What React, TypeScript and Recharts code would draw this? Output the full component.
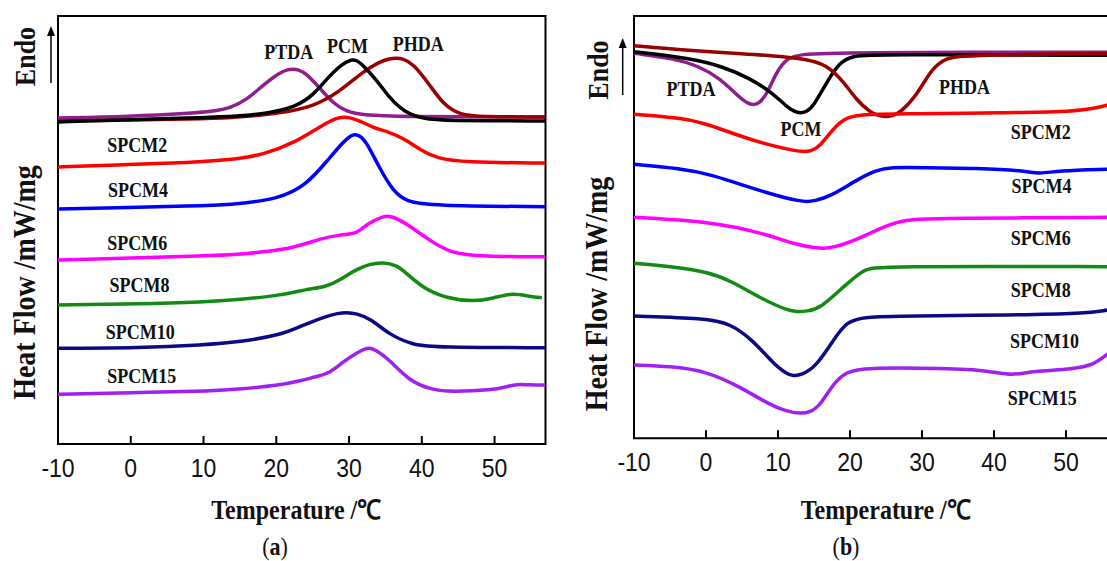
import React from 'react';
import { LineChart, Line, XAxis, YAxis, ReferenceArea, ReferenceDot } from 'recharts';

type P = [number, number];

const xTicks = [-10, 0, 10, 20, 30, 40, 50];

// ---------- Panel (a): heating curves ----------
const ptdaA: P[] = [[-10,326],[0,327.5],[8,330.5],[11.5,333],[13.6,335.7],[15.9,344],[18.2,359],[20.5,371.7],[21.6,374.5],[22.3,375],[23,374.5],[24.1,370.7],[26,355.7],[27.8,340.7],[29.7,332.3],[31.9,329],[36.5,327.3],[57,327]];
const pcmA: P[] = [[-10,322],[0,324.5],[8,326],[13.6,327.3],[18.2,329.7],[22.8,337.3],[25.1,349],[27.4,369],[29.2,380.7],[30.3,384.5],[31,384],[31.9,379],[33.8,364],[35.6,345.7],[37.5,332.3],[40.2,325],[43.4,323.3],[57,323]];
const phdaA: P[] = [[-10,323],[0,324],[8,325],[13.6,325.7],[20.5,330.7],[25.1,337.3],[28.7,352.3],[31.9,372.3],[34.2,382.3],[35.6,385.5],[36.5,386],[37.4,385.3],[38.8,380.7],[41.1,359],[43,339],[45.3,329],[48,327.3],[57,327]];
const spcm2A: P[] = [[-10,277],[0,279.5],[8,281.5],[13.6,284],[18.2,289],[22.8,302.3],[26,317.3],[28.2,326],[29.4,327.5],[31,325],[33.3,316.3],[35.6,311.7],[37.5,305.7],[39.8,294],[42.1,285.7],[45.7,281.7],[57,281]];
const spcm4A: P[] = [[-10,235],[0,236.5],[8,238],[13.6,239],[20.5,245],[24.1,259],[26.9,282.3],[29.2,302.3],[30.3,308.7],[30.8,309.7],[31.4,308.7],[32.4,302.3],[34.2,275.7],[36.1,252.3],[37.9,242.3],[41.1,238.3],[57,237.3]];
const spcm6A: P[] = [[-10,184],[0,186],[10,188],[15,189.5],[18,192],[22.3,195.7],[26.2,205.7],[28.6,209],[30.6,210],[31.6,214],[32.6,220.7],[34.8,228.3],[35.8,227.8],[37.5,222.3],[41,204],[43.9,190.7],[48.3,187.5],[57,187.3]];
const spcm8A: P[] = [[-10,139],[1.2,140],[10,142],[15,144.5],[20.5,148.5],[24.1,154.7],[26.9,157.3],[28.5,163],[31,174.7],[32.8,180],[34.7,181.7],[36.5,179],[37.9,170.7],[40.2,155.7],[43.4,145.7],[47.1,142.3],[49.8,145.7],[52.4,151.3],[54.9,147.3],[56.5,146.3]];
const spcm10A: P[] = [[-10,95.7],[1.2,96],[10,99],[15,102],[20.5,109],[23.2,117.3],[26.6,127.3],[28.5,130.8],[29.7,131.7],[31,130.5],[32.9,125.7],[35.6,109],[38.8,99],[42,96.7],[57,96.3]];
const spcm15A: P[] = [[-10,49.7],[1.2,51.5],[11.4,53],[15,55],[20.3,58.5],[23.2,63],[25.5,67.5],[27.3,70.5],[29.2,82.3],[31,91],[32.3,95.5],[32.8,96],[33.5,94.8],[35.6,84],[38.4,62.3],[41.5,54],[44,52.3],[49.8,54],[51.5,57],[53.1,60],[54.7,59],[57,59]];

// ---------- Panel (b): cooling curves ----------
const phdaB: P[] = [[-10,392.5],[-5,389.5],[0.1,386.6],[5,384.5],[9.3,382.6],[14,379.3],[16.8,373.3],[19.1,356.6],[20.9,338.3],[22.8,326],[24,322.5],[24.9,321.6],[25.9,322.5],[26.9,325],[29.3,343.3],[31.1,366.6],[33,380.6],[36.7,383.3],[57,385]];
const ptdaB: P[] = [[-10,385],[-4.5,380],[-0.8,371.6],[1.9,360],[4.3,343.3],[5.8,334.5],[6.6,333.3],[7.4,335],[8.4,343.3],[9.8,366.6],[11.2,380],[13.1,384],[18,386],[57,386]];
const pcmB: P[] = [[-10,386.6],[-2.2,380],[2.4,371.6],[6.1,360],[9.3,345],[11.2,331.6],[12.3,326.5],[13.1,325],[13.9,326.5],[14.9,331.6],[16.8,356.6],[18.6,376.6],[20.5,382.6],[23.2,384],[57,383]];
const spcm2B: P[] = [[-10,324],[-2.2,320],[2.4,308.3],[7,296.6],[11.7,288.3],[13.5,286.6],[14.5,287],[15.8,291.6],[17.7,310],[19.5,321.6],[22.3,324.3],[28,324.5],[42.5,325.6],[49.7,326.6],[53.1,329],[55.4,332.3],[57,336]];
const spcm4B: P[] = [[-10,274],[-3.6,270],[1,263.3],[5.7,251.6],[10.3,241.6],[13,237.3],[14,236.6],[15,237.3],[17.2,241.6],[20.9,258.3],[23.7,268.3],[25.6,271],[30,270.6],[37.9,270],[44.1,267.6],[46.4,264.3],[48.8,267.6],[55.4,269],[57,269.3]];
const spcm6B: P[] = [[-10,221],[1,216.6],[8,205],[12.6,193.3],[15.3,190.3],[16.3,190],[17.5,190.5],[20.9,198.3],[25.6,215],[28.5,219],[33,220],[57,221]];
const spcm8B: P[] = [[-10,175],[-5,172],[0.1,166.6],[3.3,158.3],[8,138.3],[11.5,127.5],[12.6,126.6],[14,127],[15.9,130],[19.1,151.6],[21.9,169],[23.8,172.3],[57,171.6]];
const spcm10B: P[] = [[-10,122.3],[0,120],[3.3,115],[6.5,98.3],[9.3,75],[11.2,64.5],[12.1,62.3],[13.2,63],[15.3,71.6],[17.7,98.3],[19.5,116.6],[21.9,121.6],[28,122.3],[42.5,123.3],[52.5,125],[55.4,127.6],[57,130]];
const spcm15B: P[] = [[-10,73.3],[-5,72],[0,67.3],[4.7,51.6],[8.9,33.3],[11,27.5],[13.1,24.3],[14.6,26.5],[15.9,33.3],[17.7,55],[19.5,66.6],[21.9,70.6],[33.2,70],[39.5,67.6],[42.4,62.3],[45.3,67.3],[51.1,69],[54,74.3],[55.4,82.3],[57,91]];

// ---------- Label positions (data coordinates) ----------
const labelNames = ['PTDA', 'PCM', 'PHDA', 'SPCM2', 'SPCM4', 'SPCM6', 'SPCM8', 'SPCM10', 'SPCM15'];
const labelPosA: P[] = [[21.7,392],[29.8,398],[39.5,400],[0.9,299],[1.0,254],[0.9,201.3],[1.2,159],[1.3,112.3],[1.5,68]];
const labelPosB: P[] = [[-2.1,349],[13.2,309],[35.9,351],[46.5,306.6],[46.6,252.6],[46.5,200],[46.5,148.3],[47,97.3],[46.7,40]];

const colors = {
  ptda: '#8E1E8E',
  pcm: '#000000',
  phda: '#990000',
  s2: '#FF0000',
  s4: '#0000FF',
  s6: '#FF00FF',
  s8: '#138A13',
  s10: '#0A0A85',
  s15: '#A020F0',
};

const serif = '"Liberation Serif", "Times New Roman", serif';
const sans = '"Liberation Sans", Arial, sans-serif';
const STRETCH = 1.13;

const seriesA = [
  { id: 'ptda', pts: ptdaA, color: colors.ptda },
  { id: 'phda', pts: phdaA, color: colors.phda },
  { id: 'pcm', pts: pcmA, color: colors.pcm },
  { id: 's2', pts: spcm2A, color: colors.s2 },
  { id: 's4', pts: spcm4A, color: colors.s4 },
  { id: 's6', pts: spcm6A, color: colors.s6 },
  { id: 's8', pts: spcm8A, color: colors.s8 },
  { id: 's10', pts: spcm10A, color: colors.s10 },
  { id: 's15', pts: spcm15A, color: colors.s15 },
];
const seriesB = [
  { id: 'ptda', pts: ptdaB, color: colors.ptda },
  { id: 'pcm', pts: pcmB, color: colors.pcm },
  { id: 'phda', pts: phdaB, color: colors.phda },
  { id: 's2', pts: spcm2B, color: colors.s2 },
  { id: 's4', pts: spcm4B, color: colors.s4 },
  { id: 's6', pts: spcm6B, color: colors.s6 },
  { id: 's8', pts: spcm8B, color: colors.s8 },
  { id: 's10', pts: spcm10B, color: colors.s10 },
  { id: 's15', pts: spcm15B, color: colors.s15 },
];

const toData = (pts: P[]) => pts.map(([t, v]) => ({ t, v }));

function SText(props: {
  x: number;
  y: number;
  size: number;
  family: string;
  bold?: boolean;
  rotate?: number;
  children: React.ReactNode;
}) {
  const { x, y, size, family, bold, rotate, children } = props;
  const rot = rotate ? ` rotate(${rotate})` : '';
  return (
    <text
      transform={`translate(${x},${y})${rot} scale(1,${STRETCH})`}
      x={0}
      y={0}
      textAnchor="middle"
      dominantBaseline="central"
      fontFamily={family}
      fontWeight={bold ? 'bold' : 'normal'}
      fontSize={size}
      fill="#111"
    >
      {children}
    </text>
  );
}

const Tick = (props: any) => {
  const { x, y, payload } = props;
  return (
    <g>
      {payload.value !== -10 && (
        <line x1={x} x2={x} y1={y} y2={y - 8} stroke="#000" strokeWidth={2} />
      )}
      <SText x={x} y={y + 24} size={23} family={sans}>
        {payload.value}
      </SText>
    </g>
  );
};

const makeLabel = (text: string) => (p: any) => {
  const vb = p.viewBox || {};
  const cx = (vb.x || 0) + (vb.width || 0) / 2;
  const cy = (vb.y || 0) + (vb.height || 0) / 2;
  return (
    <SText x={cx} y={cy} size={18} family={serif} bold>
      {text}
    </SText>
  );
};

function Panel(props: {
  left: number;
  width: number;
  margin: { top: number; left: number; right: number; bottom: number };
  yMax: number;
  series: { id: string; pts: P[]; color: string }[];
  labels: P[];
}) {
  const { left, width, margin, yMax, series, labels } = props;
  return (
    <div style={{ position: 'absolute', left, top: 0 }}>
      <LineChart width={width} height={561} margin={margin}>
        <XAxis
          type="number"
          dataKey="t"
          domain={[-10, 57]}
          ticks={xTicks}
          interval={0}
          allowDataOverflow
          axisLine={false}
          tickLine={false}
          tickSize={0}
          tickMargin={0}
          height={30}
          tick={Tick}
        />
        <YAxis type="number" domain={[0, yMax]} hide allowDataOverflow />
        {series.map((s) => (
          <Line
            key={s.id}
            data={toData(s.pts)}
            dataKey="v"
            type="basis"
            stroke={s.color}
            strokeWidth={3.5}
            dot={false}
            activeDot={false}
            isAnimationActive={false}
          />
        ))}
        <ReferenceArea
          x1={-10}
          x2={57}
          y1={0}
          y2={yMax}
          fill="none"
          fillOpacity={0}
          stroke="#000"
          strokeWidth={2}
          ifOverflow="visible"
        />
        {labels.map(([t, v], i) => (
          <ReferenceDot
            key={labelNames[i]}
            x={t}
            y={v}
            r={0}
            fill="none"
            stroke="none"
            ifOverflow="visible"
            label={makeLabel(labelNames[i])}
          />
        ))}
      </LineChart>
    </div>
  );
}

export default function App() {
  return (
    <div
      style={{
        position: 'absolute',
        left: 0,
        top: 0,
        width: 1107,
        height: 561,
        overflow: 'hidden',
        background: '#fff',
      }}
    >
      <Panel
        left={0}
        width={560}
        margin={{ top: 16, left: 58, right: 14.5, bottom: 87 }}
        yMax={428}
        series={seriesA}
        labels={labelPosA}
      />
      <Panel
        left={560}
        width={570}
        margin={{ top: 16, left: 74, right: 13.6, bottom: 92.7 }}
        yMax={422.3}
        series={seriesB}
        labels={labelPosB}
      />
      <svg
        width={1107}
        height={561}
        style={{ position: 'absolute', left: 0, top: 0, pointerEvents: 'none' }}
      >
        {/* Panel a decorations */}
        <SText x={24} y={282.5} size={28} family={serif} bold rotate={-90}>
          Heat Flow /mW/mg
        </SText>
        <SText x={25} y={56.5} size={26} family={serif} bold rotate={-90}>
          Endo
        </SText>
        <line x1={51} x2={51} y1={83} y2={34} stroke="#000" strokeWidth={1.5} />
        <path d="M47,36 L51,26 L55,36 Z" fill="#000" />
        <SText x={296} y={510} size={24} family={serif} bold>
          Temperature /℃
        </SText>
        <SText x={275} y={547} size={22} family={serif}>
          (<tspan fontWeight="bold">a</tspan>)
        </SText>
        {/* Panel b decorations */}
        <SText x={596} y={294} size={28} family={serif} bold rotate={-90}>
          Heat Flow /mW/mg
        </SText>
        <SText x={597.5} y={70} size={26} family={serif} bold rotate={-90}>
          Endo
        </SText>
        <line x1={622.7} x2={622.7} y1={95} y2={46} stroke="#000" strokeWidth={1.5} />
        <path d="M618.7,48 L622.7,38 L626.7,48 Z" fill="#000" />
        <SText x={885.5} y={510} size={24} family={serif} bold>
          Temperature /℃
        </SText>
        <SText x={846} y={547} size={22} family={serif}>
          (<tspan fontWeight="bold">b</tspan>)
        </SText>
      </svg>
    </div>
  );
}
